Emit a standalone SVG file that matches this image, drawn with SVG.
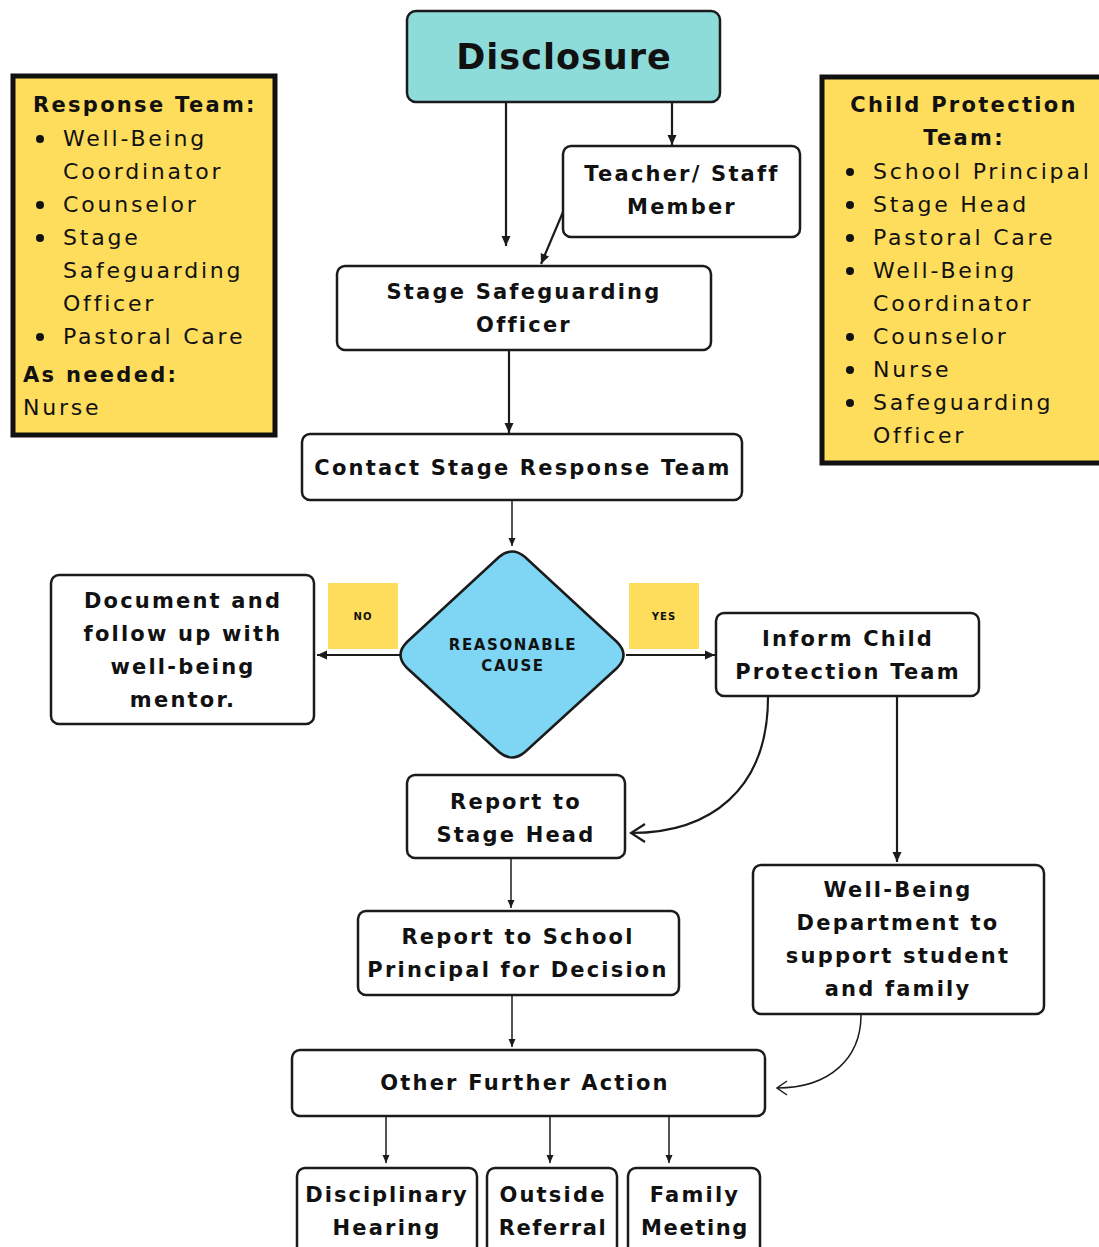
<svg xmlns="http://www.w3.org/2000/svg" width="1099" height="1247" viewBox="0 0 1099 1247">
<defs>
<style>
.node{fill:#fff;stroke:#1b1b1b;stroke-width:2.5}
.t{font-family:"DejaVu Sans",sans-serif;font-weight:bold;font-size:21px;letter-spacing:2.2px;fill:#111;text-anchor:middle}
.side{fill:#FEDC5C;stroke:#111;stroke-width:5}
.st{font-family:"DejaVu Sans",sans-serif;font-size:22px;letter-spacing:2.8px;fill:#111}
.sb{font-family:"DejaVu Sans",sans-serif;font-weight:bold;font-size:21px;letter-spacing:2.3px;fill:#111}
.c{fill:none;stroke:#1b1b1b;stroke-width:2.2}
.c2{fill:none;stroke:#1b1b1b;stroke-width:1.5}
.lab{fill:#FEDC5C}
.lt{font-family:"DejaVu Sans",sans-serif;font-weight:bold;font-size:10px;letter-spacing:1px;fill:#111;text-anchor:middle}
</style>
<marker id="arr" markerUnits="userSpaceOnUse" markerWidth="12" markerHeight="12" viewBox="0 0 12 12" refX="11" refY="6" orient="auto">
<path d="M1,1.5 L11,6 L1,10.5 Z" fill="#1b1b1b"/>
</marker>
<marker id="arrs" markerUnits="userSpaceOnUse" markerWidth="10" markerHeight="10" viewBox="0 0 10 10" refX="9" refY="5" orient="auto">
<path d="M1,1.5 L9,5 L1,8.5 Z" fill="#1b1b1b"/>
</marker>
<marker id="chev" markerUnits="userSpaceOnUse" markerWidth="24" markerHeight="24" viewBox="0 0 24 24" refX="22" refY="12" orient="auto">
<path d="M8,3 L22,12 L8,21" fill="none" stroke="#1b1b1b" stroke-width="2.2"/>
</marker>
<marker id="chevs" markerUnits="userSpaceOnUse" markerWidth="20" markerHeight="20" viewBox="0 0 20 20" refX="18" refY="10" orient="auto">
<path d="M8,3 L18,10 L8,17" fill="none" stroke="#1b1b1b" stroke-width="1.5"/>
</marker>
</defs>
<rect width="1099" height="1247" fill="#fff"/>

<g id="response-team">
<rect class="side" x="13" y="76" width="262" height="359"/>
<text class="sb" x="33" y="112">Response Team:</text>
<circle cx="40" cy="139" r="4" fill="#111"/>
<circle cx="40" cy="205" r="4" fill="#111"/>
<circle cx="40" cy="238" r="4" fill="#111"/>
<circle cx="40" cy="337" r="4" fill="#111"/>
<text class="st" x="63" y="146">Well-Being</text>
<text class="st" x="63" y="179">Coordinator</text>
<text class="st" x="63" y="212">Counselor</text>
<text class="st" x="63" y="245">Stage</text>
<text class="st" x="63" y="278">Safeguarding</text>
<text class="st" x="63" y="311">Officer</text>
<text class="st" x="63" y="344">Pastoral Care</text>
<text class="sb" x="23" y="382">As needed:</text>
<text class="st" x="23" y="415">Nurse</text>
</g>

<g id="child-protection-team">
<rect class="side" x="822" y="77" width="290" height="386"/>
<text class="sb" x="964" y="112" text-anchor="middle">Child Protection</text>
<text class="sb" x="964" y="145" text-anchor="middle">Team:</text>
<circle cx="850" cy="172" r="4" fill="#111"/>
<circle cx="850" cy="205" r="4" fill="#111"/>
<circle cx="850" cy="238" r="4" fill="#111"/>
<circle cx="850" cy="271" r="4" fill="#111"/>
<circle cx="850" cy="337" r="4" fill="#111"/>
<circle cx="850" cy="370" r="4" fill="#111"/>
<circle cx="850" cy="403" r="4" fill="#111"/>
<text class="st" x="873" y="179">School Principal</text>
<text class="st" x="873" y="212">Stage Head</text>
<text class="st" x="873" y="245">Pastoral Care</text>
<text class="st" x="873" y="278">Well-Being</text>
<text class="st" x="873" y="311">Coordinator</text>
<text class="st" x="873" y="344">Counselor</text>
<text class="st" x="873" y="377">Nurse</text>
<text class="st" x="873" y="410">Safeguarding</text>
<text class="st" x="873" y="443">Officer</text>
</g>

<g id="connectors">
<line class="c" x1="506" y1="102" x2="506" y2="246" marker-end="url(#arr)"/>
<line class="c" x1="672" y1="102" x2="672" y2="145" marker-end="url(#arr)"/>
<line class="c" x1="563" y1="212" x2="541" y2="264" marker-end="url(#arr)"/>
<line class="c" x1="509" y1="350" x2="509" y2="433" marker-end="url(#arr)"/>
<line class="c2" x1="512" y1="500" x2="512" y2="546" marker-end="url(#arrs)"/>
<line class="c" x1="401" y1="655" x2="317" y2="655" marker-end="url(#arr)"/>
<line class="c" x1="626" y1="655" x2="715" y2="655" marker-end="url(#arr)"/>
<path class="c" d="M768,697 C768,790 710,833 631,833" marker-end="url(#chev)"/>
<line class="c" x1="897" y1="697" x2="897" y2="862" marker-end="url(#arr)"/>
<line class="c2" x1="511" y1="858" x2="511" y2="908" marker-end="url(#arrs)"/>
<line class="c2" x1="512" y1="995" x2="512" y2="1047" marker-end="url(#arrs)"/>
<path class="c2" d="M861,1015 C861,1058 830,1088 777,1088" marker-end="url(#chevs)"/>
<line class="c2" x1="386" y1="1116" x2="386" y2="1163" marker-end="url(#arrs)"/>
<line class="c2" x1="550" y1="1116" x2="550" y2="1163" marker-end="url(#arrs)"/>
<line class="c2" x1="669" y1="1116" x2="669" y2="1163" marker-end="url(#arrs)"/>
</g>

<g id="disclosure">
<rect x="407" y="11" width="313" height="91" rx="9" fill="#8DDCDA" stroke="#1b1b1b" stroke-width="2.5"/>
<text class="t" x="564" y="69" style="font-size:35px;letter-spacing:1px">Disclosure</text>
</g>

<g id="teacher-staff">
<rect class="node" x="563" y="146" width="237" height="91" rx="8"/>
<text class="t" x="682" y="181">Teacher/ Staff</text>
<text class="t" x="682" y="214">Member</text>
</g>

<g id="stage-safeguarding-officer">
<rect class="node" x="337" y="266" width="374" height="84" rx="8"/>
<text class="t" x="524" y="299">Stage Safeguarding</text>
<text class="t" x="524" y="332">Officer</text>
</g>

<g id="contact-stage-response-team">
<rect class="node" x="302" y="434" width="440" height="66" rx="8"/>
<text class="t" x="523" y="475">Contact Stage Response Team</text>
</g>

<g id="reasonable-cause">
<path d="M499,557 Q512,546 525,557 L617,642 Q630,655 617,668 L525,752 Q512,763 499,752 L407,668 Q394,655 407,642 Z" fill="#7ED5F4" stroke="#1b1b1b" stroke-width="2.5"/>
<text class="t" x="513" y="650" style="font-size:15px;letter-spacing:1.6px">REASONABLE</text>
<text class="t" x="513" y="671" style="font-size:15px;letter-spacing:1.6px">CAUSE</text>
</g>

<g id="label-no">
<rect class="lab" x="328" y="583" width="70" height="66"/>
<text class="lt" x="363" y="620">NO</text>
</g>

<g id="label-yes">
<rect class="lab" x="629" y="583" width="70" height="66"/>
<text class="lt" x="664" y="620">YES</text>
</g>

<g id="document-follow-up">
<rect class="node" x="51" y="575" width="263" height="149" rx="8"/>
<text class="t" x="183" y="608">Document and</text>
<text class="t" x="183" y="641">follow up with</text>
<text class="t" x="183" y="674">well-being</text>
<text class="t" x="183" y="707">mentor.</text>
</g>

<g id="inform-child-protection-team">
<rect class="node" x="716" y="613" width="263" height="83" rx="8"/>
<text class="t" x="848" y="646">Inform Child</text>
<text class="t" x="848" y="679">Protection Team</text>
</g>

<g id="report-stage-head">
<rect class="node" x="407" y="775" width="218" height="83" rx="8"/>
<text class="t" x="516" y="809">Report to</text>
<text class="t" x="516" y="842">Stage Head</text>
</g>

<g id="report-school-principal">
<rect class="node" x="358" y="911" width="321" height="84" rx="8"/>
<text class="t" x="518" y="944">Report to School</text>
<text class="t" x="518" y="977">Principal for Decision</text>
</g>

<g id="well-being-department">
<rect class="node" x="753" y="865" width="291" height="149" rx="8"/>
<text class="t" x="898" y="897">Well-Being</text>
<text class="t" x="898" y="930">Department to</text>
<text class="t" x="898" y="963">support student</text>
<text class="t" x="898" y="996">and family</text>
</g>

<g id="other-further-action">
<rect class="node" x="292" y="1050" width="473" height="66" rx="8"/>
<text class="t" x="525" y="1090">Other Further Action</text>
</g>

<g id="disciplinary-hearing">
<rect class="node" x="297" y="1168" width="180" height="90" rx="8"/>
<text class="t" x="387" y="1202" style="letter-spacing:2px">Disciplinary</text>
<text class="t" x="387" y="1235">Hearing</text>
</g>

<g id="outside-referral">
<rect class="node" x="487" y="1168" width="130" height="90" rx="8"/>
<text class="t" x="553" y="1202">Outside</text>
<text class="t" x="553" y="1235" style="letter-spacing:1.6px">Referral</text>
</g>

<g id="family-meeting">
<rect class="node" x="628" y="1168" width="132" height="90" rx="8"/>
<text class="t" x="695" y="1202">Family</text>
<text class="t" x="695" y="1235" style="letter-spacing:1.6px">Meeting</text>
</g>
</svg>
